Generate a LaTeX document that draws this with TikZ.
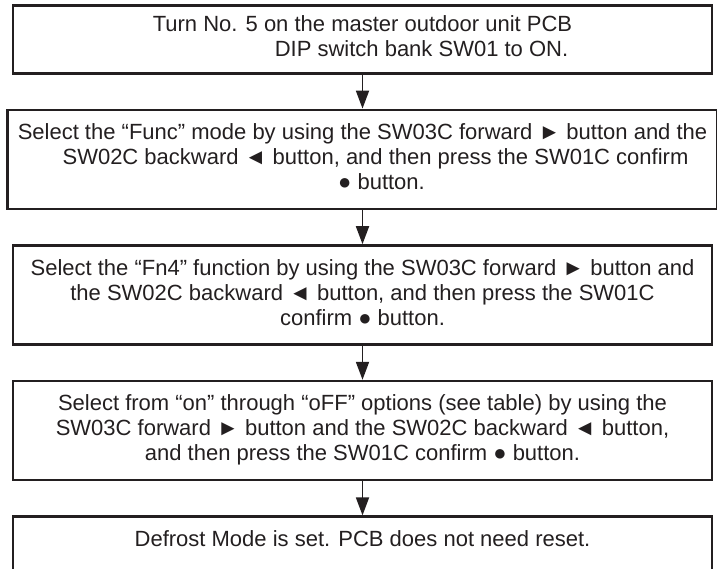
\documentclass[tikz,border=0pt]{standalone}
\usepackage{fontspec}
\setmainfont{Liberation Sans}
\usetikzlibrary{arrows.meta,positioning}
\definecolor{ink}{RGB}{35,31,32}
\begin{document}
\begin{tikzpicture}[>={Triangle[width=13pt,length=18pt]},
    stepbox/.style={draw=ink, text=ink, line width=2.6pt, align=center,
      minimum width=699pt, inner xsep=4pt, inner ysep=12pt,
      font=\fontsize{22}{25}\selectfont},
    node distance=34pt]
    \useasboundingbox (0,0) rectangle (717pt,-569pt);

    \node[stepbox, anchor=north, inner ysep=9pt] (b1) at (362.5pt,-4pt)
      {\strut Turn No. 5 on the master outdoor unit PCB\\
       \hspace*{118pt}DIP switch bank SW01 to ON.\strut};
    \node[stepbox, below=of b1, minimum width=710pt] (b2)
      {\strut Select the “Func” mode by using the SW03C forward ► button and the\\
       \hspace*{26pt}SW02C backward ◄ button, and then press the SW01C confirm\\
       \hspace*{38pt}● button.\strut};
    \node[stepbox, below=of b2] (b3)
      {\strut Select the “Fn4” function by using the SW03C forward ► button and\\
       the SW02C backward ◄ button, and then press the SW01C\\
       confirm ● button.\strut};
    \node[stepbox, below=of b3] (b4)
      {\strut Select from “on” through “oFF” options (see table) by using the\\
       SW03C forward ► button and the SW02C backward ◄ button,\\
       and then press the SW01C confirm ● button.\strut};
    \node[stepbox, below=of b4, text depth=40pt] (b5)
      {\strut Defrost Mode is set. PCB does not need reset.};

    \foreach \a/\b in {b1/b2, b2/b3, b3/b4, b4/b5} {
      \draw[->, ink, line width=1.8pt] (\a) -- (\b);
    }
\end{tikzpicture}
\end{document}
